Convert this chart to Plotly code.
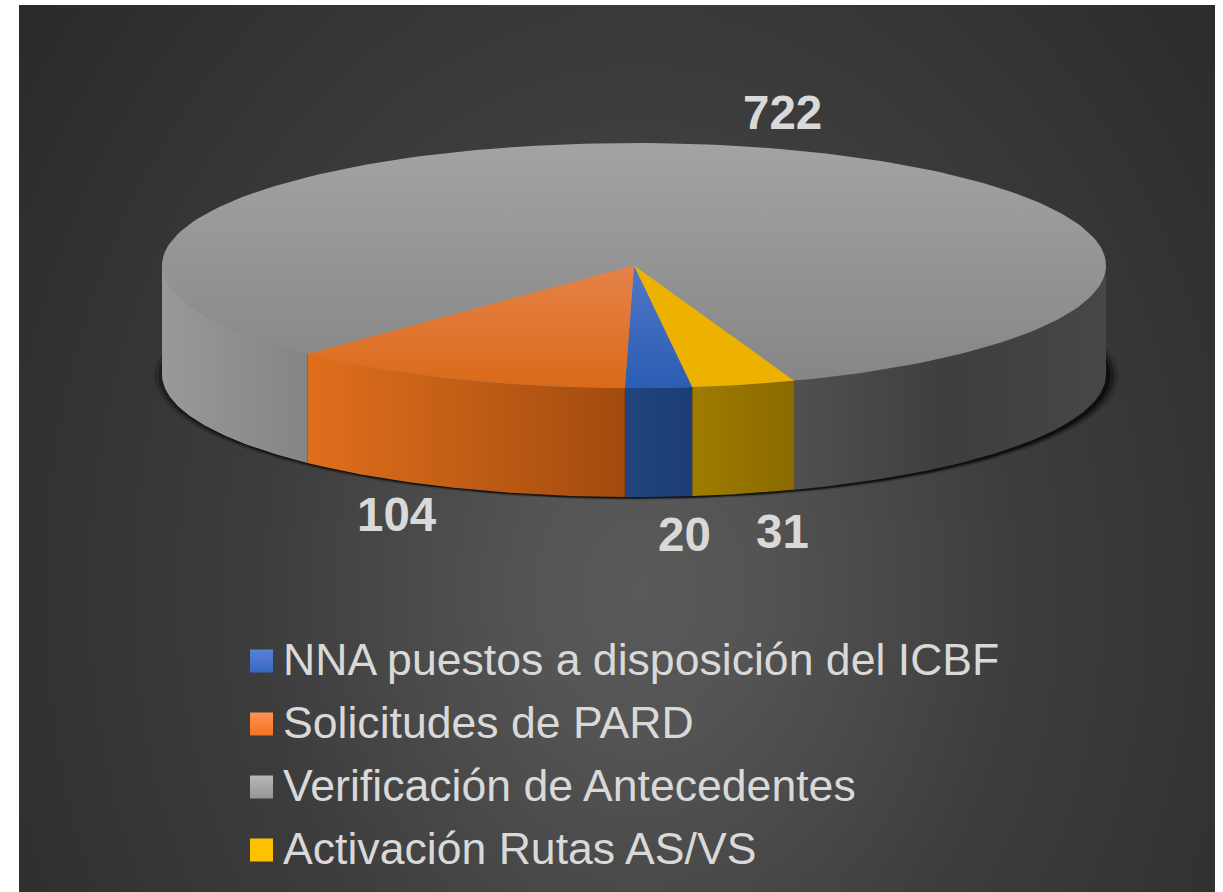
import numpy as np
import plotly.graph_objects as go

# ---- chart data ----
categories = ["NNA puestos a disposición del ICBF", "Solicitudes de PARD",
              "Verificación de Antecedentes", "Activación Rutas AS/VS"]
values = [20, 104, 722, 31]

# ---- styling ----
W, H = 1223, 892
CX, CY, RX, RY, DEPTH = 634, 265.5, 472, 122.5, 109
FIRST_ANGLE = 7.1  # pie rotation: degrees from the front, slices run clockwise
TEXT = "#d9d9d9"
FONT = "Liberation Sans, Arial, sans-serif"
top_grad = [["#5077c6", "#2a5db3"], ["#e6824a", "#d96a18"], ["#a3a3a3", "#858585"], ["#edb100", "#edb100"]]
side_grad = [["#22457f", "#1c3d74"], ["#e06f1c", "#a24b0e"], None, ["#a17c00", "#8a6a00"]]
gray_left = ["#999999", "#858585"]
gray_right = ["#505050", "#3e3e3e", "#474747"]
swatch = [["#5b82d6", "#3567c0"], ["#ff9257", "#f77320"], ["#b8b8b8", "#959595"], ["#ffc000", "#ffc000"]]
label_xy = [(684, 534), (397, 514), (782, 112), (782, 531)]
legend_y = [661, 724, 787, 850]

def scale(cols):
    return [[i / (len(cols) - 1), c] for i, c in enumerate(cols)]

def arc(t1, t2, dy=0, n=80):
    t = np.radians(np.linspace(t1, t2, n))
    return CX + RX * np.sin(t), CY + dy + RY * np.cos(t)

def poly(x, y, grad, orient, start, stop):
    return go.Scatter(x=list(x), y=list(y), mode="lines", fill="toself", line=dict(width=0),
                      fillgradient=dict(type=orient, colorscale=scale(grad), start=start, stop=stop),
                      hoverinfo="skip", showlegend=False)

fig = go.Figure()

# page backdrop: soft radial glow (cell centres chosen so the cells end at the panel edges)
NX, NY = 70, 52
gx = 19 + (np.arange(NX) + .5) * (1215 - 19) / NX
gy = 5 + (np.arange(NY) + .5) * (892 - 5) / NY
xx, yy = np.meshgrid(gx, gy)
rr = np.hypot(xx - 640, (yy - 590) * 0.8)
fig.add_trace(go.Heatmap(x=gx, y=gy, z=np.clip(1 - rr / 780, 0, 1), zmin=0, zmax=1, zsmooth="best",
                         colorscale=[[0, "#2a2a2a"], [0.5, "#3c3c3c"], [0.85, "#545454"], [1, "#595959"]],
                         showscale=False, hoverinfo="skip"))

# shadow under the disc
for sx, sy, op in [(482, 124, .18), (478, 123, .3), (474, 122.5, .55)]:
    t = np.radians(np.linspace(0, 360, 181))
    fig.add_trace(go.Scatter(x=636.5 + sx * np.sin(t), y=376 + sy * np.cos(t), mode="lines", fill="toself",
                             line=dict(width=0), fillcolor=f"rgba(0,0,0,{op})",
                             hoverinfo="skip", showlegend=False))

# slice angles derived from the values
total = sum(values)
edges = [FIRST_ANGLE]
for v in values:
    edges.append(edges[-1] - v / total * 360)

# side walls (only the front half is visible); the top edge tucks under the disc to avoid a seam
def wall(t1, t2, grad):
    a, b = max(t1, -90), min(t2, 90)
    if a >= b:
        return
    xt, yt = arc(a, b, -3)
    xb, yb = arc(b, a, DEPTH)
    fig.add_trace(poly(np.r_[xt, xb], np.r_[yt, yb], grad, "horizontal", float(xt.min()), float(xt.max())))

for i in range(len(values)):
    hi, lo = edges[i], edges[i + 1]
    if side_grad[i] is None:
        wall(lo, hi, gray_left)
        wall(lo + 360, hi + 360, gray_right)
    else:
        wall(lo, hi, side_grad[i])
        wall(lo + 360, hi + 360, side_grad[i])

# top surface: base disc, then wedges
dx, dy = arc(0, 360, n=241)
fig.add_trace(poly(dx, dy, top_grad[2], "vertical", CY - RY, CY + RY))
for i in range(len(values)):
    hi, lo = edges[i], edges[i + 1]
    if hi - lo > 180:
        continue
    x, y = arc(hi, lo, n=max(8, int((hi - lo) * 2)))
    fig.add_trace(poly(np.r_[CX, x, CX], np.r_[CY, y, CY], top_grad[i], "vertical", CY, CY + RY))

# legend swatches
for c, g, y in zip(categories, swatch, legend_y):
    fig.add_trace(go.Scatter(x=[261.5], y=[y], mode="markers", hoverinfo="skip", showlegend=False,
                             marker=dict(symbol="square", size=23, color=g[0], line=dict(width=0),
                                         gradient=dict(type="vertical", color=g[1]))))
    fig.add_annotation(x=281, y=y - 2, text=c, showarrow=False, xanchor="left", yanchor="middle",
                       font=dict(family=FONT, size=44.6, color=TEXT))

# data labels
for v, (x, y) in zip(values, label_xy):
    fig.add_annotation(x=x, y=y, text=f"<b>{v}</b>", showarrow=False, xanchor="center", yanchor="middle",
                       font=dict(family=FONT, size=47.5, color=TEXT))

fig.update_layout(width=W, height=H, margin=dict(l=0, r=0, t=0, b=0),
                  paper_bgcolor="white", plot_bgcolor="white", showlegend=False,
                  xaxis=dict(range=[0, W], visible=False, fixedrange=True),
                  yaxis=dict(range=[H, 0], visible=False, fixedrange=True))
fig.write_html("out.html", config=dict(displayModeBar=False),
               post_script="document.body.style.margin='0';")
